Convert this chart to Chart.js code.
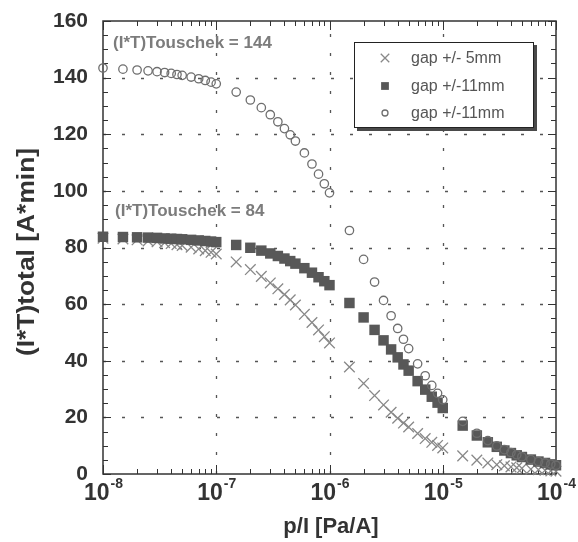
<!DOCTYPE html>
<html>
<head>
<meta charset="utf-8">
<script src="https://cdn.jsdelivr.net/npm/chart.js@4.4.0/dist/chart.umd.min.js"></script>
<style>
  html, body { margin: 0; padding: 0; background: #fff; }
  #wrap { width: 578px; height: 542px; }
</style>
</head>
<body>
<div id="wrap"><canvas id="touschekChart" width="578" height="542"></canvas></div>
<script>
// p/I values [Pa/A]
const pOverI = [
  1e-8, 1.5e-8, 2e-8, 2.5e-8, 3e-8, 3.5e-8, 4e-8, 4.5e-8, 5e-8, 6e-8, 7e-8, 8e-8, 9e-8,
  1e-7, 1.5e-7, 2e-7, 2.5e-7, 3e-7, 3.5e-7, 4e-7, 4.5e-7, 5e-7, 6e-7, 7e-7, 8e-7, 9e-7,
  1e-6, 1.5e-6, 2e-6, 2.5e-6, 3e-6, 3.5e-6, 4e-6, 4.5e-6, 5e-6, 6e-6, 7e-6, 8e-6, 9e-6,
  1e-5, 1.5e-5, 2e-5, 2.5e-5, 3e-5, 3.5e-5, 4e-5, 4.5e-5, 5e-5, 6e-5, 7e-5, 8e-5, 9e-5,
  1e-4
];

// (I*T)total [A*min]
const gap5mm = [
  83.3, 83.0, 82.7, 82.3, 82.0, 81.7, 81.4, 81.0, 80.7, 80.1, 79.5, 78.9, 78.3,
  77.7, 74.9, 72.2, 69.8, 67.5, 65.4, 63.4, 61.5, 59.7, 56.4, 53.5, 50.9, 48.5,
  46.3, 37.8, 32.0, 27.7, 24.4, 21.8, 19.7, 18.0, 16.6, 14.3, 12.5, 11.2, 10.1,
  9.2, 6.4, 4.9, 3.9, 3.3, 2.9, 2.5, 2.2, 2.0, 1.7, 1.5, 1.3, 1.1,
  1.0
];
const gap11mmFilled = [
  83.8, 83.7, 83.6, 83.5, 83.4, 83.2, 83.1, 83.0, 82.9, 82.7, 82.5, 82.3, 82.1,
  81.9, 80.9, 79.9, 78.9, 77.9, 77.0, 76.1, 75.2, 74.3, 72.7, 71.1, 69.5, 68.1,
  66.7, 60.4, 55.3, 50.9, 47.2, 44.0, 41.2, 38.7, 36.5, 32.8, 29.8, 27.3, 25.2,
  23.3, 17.1, 13.6, 11.2, 9.6, 8.3, 7.4, 6.6, 6.0, 5.1, 4.4, 3.9, 3.4,
  3.1
];
const gap11mmOpen = [
  143.4, 143.0, 142.7, 142.4, 142.1, 141.8, 141.5, 141.1, 140.8, 140.2, 139.6, 139.0, 138.4,
  137.8, 134.9, 132.1, 129.4, 126.9, 124.4, 122.0, 119.8, 117.6, 113.4, 109.5, 105.9, 102.5,
  99.3, 86.0, 75.8, 67.8, 61.3, 55.9, 51.4, 47.6, 44.3, 38.9, 34.7, 31.3, 28.5,
  26.2, 18.6, 14.4, 11.8, 9.9, 8.6, 7.6, 6.8, 6.1, 5.1, 4.4, 3.9, 3.5,
  3.1
];

const seriesLabels = ['gap +/- 5mm', 'gap +/-11mm', 'gap +/-11mm'];
const decades = [1e-8, 1e-7, 1e-6, 1e-5, 1e-4];
const decadeExps = [-8, -7, -6, -5, -4];
const yTicks = [0, 20, 40, 60, 80, 100, 120, 140, 160];
const notes = ['(I*T)Touschek = 144', '(I*T)Touschek = 84'];
const xTitle = 'p/I [Pa/A]';
const yTitle = '(I*T)total [A*min]';

const FONT = "'Liberation Sans', Arial, sans-serif";

function toPoints(ys) {
  return ys.map((y, i) => ({ x: pOverI[i], y: y }));
}

const styles = [
  { pointStyle: 'crossRot', pointRadius: 7.5, borderColor: '#888', backgroundColor: 'rgba(0,0,0,0)', borderWidth: 1.3 },
  { pointStyle: 'rect', pointRadius: 7.4, borderColor: '#585858', backgroundColor: '#585858', borderWidth: 0 },
  { pointStyle: 'circle', pointRadius: 4.2, borderColor: '#6e6e6e', backgroundColor: 'rgba(255,255,255,0)', borderWidth: 1.3 }
];

// frame, grid, ticks, labels, notes and legend
const framePlugin = {
  id: 'frame',
  beforeDatasetsDraw(chart) {
    const { ctx, chartArea: a, scales: { x, y } } = chart;
    ctx.save();

    // dashed grid at inner major ticks
    ctx.strokeStyle = '#555';
    ctx.lineWidth = 1.3;
    ctx.setLineDash([3, 16]);
    ctx.beginPath();
    x.ticks.forEach(t => {
      if (t.value <= decades[0] || t.value >= decades[decades.length - 1]) return;
      const px = Math.round(x.getPixelForValue(t.value)) + 0.5;
      ctx.moveTo(px, a.bottom); ctx.lineTo(px, a.top);
    });
    y.ticks.forEach(t => {
      if (t.value <= 0 || t.value >= 160) return;
      const py = Math.round(y.getPixelForValue(t.value)) + 0.5;
      ctx.moveTo(a.left, py); ctx.lineTo(a.right, py);
    });
    ctx.stroke();
    ctx.setLineDash([]);

    ctx.strokeStyle = '#333';
    ctx.lineWidth = 1.5;
    ctx.strokeRect(a.left, a.top, a.right - a.left, a.bottom - a.top);
    ctx.lineWidth = 1;
    ctx.beginPath();
    for (let v = 0; v <= 160; v += 5) {
      const py = Math.round(y.getPixelForValue(v)) + 0.5;
      const len = v % 20 === 0 ? 8 : 5;
      ctx.moveTo(a.left, py); ctx.lineTo(a.left + len, py);
      ctx.moveTo(a.right, py); ctx.lineTo(a.right - len, py);
    }
    for (let e = -8; e <= -4; e++) {
      for (let m = 1; m <= 9; m++) {
        if (e === -4 && m > 1) break;
        const px = Math.round(x.getPixelForValue(m * Math.pow(10, e))) + 0.5;
        const len = m === 1 ? 9 : 5;
        ctx.moveTo(px, a.bottom); ctx.lineTo(px, a.bottom - len);
        ctx.moveTo(px, a.top); ctx.lineTo(px, a.top + len);
      }
    }
    ctx.stroke();

    // x tick labels with exponents
    ctx.fillStyle = '#333';
    ctx.textBaseline = 'alphabetic';
    ctx.textAlign = 'left';
    decades.forEach((v, i) => {
      const px = x.getPixelForValue(v);
      const exp = String(decadeExps[i]);
      ctx.font = 'bold 23px ' + FONT;
      const w1 = ctx.measureText('10').width;
      ctx.font = 'bold 14px ' + FONT;
      const w2 = ctx.measureText(exp).width;
      const start = px - (w1 + w2) / 2;
      ctx.font = 'bold 23px ' + FONT;
      ctx.fillText('10', start, 500);
      ctx.font = 'bold 14px ' + FONT;
      ctx.fillText(exp, start + w1 + 1, 488);
    });

    // axis titles
    ctx.font = 'bold 22px ' + FONT;
    ctx.textAlign = 'center';
    ctx.textBaseline = 'middle';
    ctx.fillText(xTitle, 331, 527);
    ctx.save();
    ctx.translate(27, 252);
    ctx.rotate(-Math.PI / 2);
    ctx.scale(1.1, 1);
    ctx.font = 'bold 24px ' + FONT;
    ctx.fillText(yTitle, 0, 0);
    ctx.restore();

    // annotations
    ctx.fillStyle = '#7c7c7c';
    ctx.font = 'bold 17px ' + FONT;
    ctx.textAlign = 'left';
    ctx.fillText(notes[0], 113, 43);
    ctx.fillText(notes[1], 115, 211);
    ctx.restore();
  },
  afterDatasetsDraw(chart) {
    const { ctx } = chart;
    ctx.save();
    // legend box with shadow
    ctx.fillStyle = '#4a4a4a';
    ctx.fillRect(357, 45, 180, 86);
    ctx.fillStyle = '#fff';
    ctx.fillRect(354, 42, 179, 85);
    ctx.strokeStyle = '#222';
    ctx.lineWidth = 1;
    ctx.strokeRect(354.5, 42.5, 179, 85);

    const rows = [58, 86, 113];
    const legendStyles = [
      Object.assign({}, styles[0], { pointRadius: 6 }),
      Object.assign({}, styles[1], { pointRadius: 5.5 }),
      Object.assign({}, styles[2], { pointRadius: 3 })
    ];
    rows.forEach((ry, i) => {
      const s = legendStyles[i];
      ctx.strokeStyle = s.borderColor;
      ctx.fillStyle = s.backgroundColor;
      ctx.lineWidth = s.borderWidth;
      Chart.helpers.drawPoint(ctx, { pointStyle: s.pointStyle, radius: s.pointRadius, rotation: 0, borderWidth: s.borderWidth }, 385, ry);
      ctx.fillStyle = '#555';
      ctx.font = '16px ' + FONT;
      ctx.textAlign = 'left';
      ctx.textBaseline = 'middle';
      ctx.fillText(seriesLabels[i], 411, ry + 1);
    });
    ctx.restore();
  }
};

const ctx = document.getElementById('touschekChart').getContext('2d');
new Chart(ctx, {
  type: 'scatter',
  data: {
    datasets: [
      Object.assign({ label: seriesLabels[0], data: toPoints(gap5mm), order: 2, clip: false }, styles[0]),
      Object.assign({ label: seriesLabels[1], data: toPoints(gap11mmFilled), order: 1, clip: false }, styles[1]),
      Object.assign({ label: seriesLabels[2], data: toPoints(gap11mmOpen), order: 0, clip: false }, styles[2])
    ]
  },
  options: {
    responsive: false,
    animation: false,
    layout: { padding: { top: 21, right: 22, left: 0, bottom: 0 } },
    plugins: {
      legend: { display: false },
      tooltip: { enabled: false }
    },
    scales: {
      x: {
        type: 'logarithmic',
        min: 1e-8,
        max: 1e-4,
        afterBuildTicks: scale => { scale.ticks = decades.map(v => ({ value: v })); },
        afterFit: scale => { scale.height = 68; },
        ticks: { display: false },
        grid: { display: false },
        border: { display: false }
      },
      y: {
        min: 0,
        max: 160,
        afterBuildTicks: scale => { scale.ticks = yTicks.map(v => ({ value: v })); },
        afterFit: scale => { scale.width = 103; },
        ticks: {
          color: '#333',
          padding: 7,
          font: { family: FONT, size: 21, weight: 'bold' }
        },
        grid: { display: false },
        border: { display: false }
      }
    }
  },
  plugins: [framePlugin]
});
</script>
</body>
</html>
